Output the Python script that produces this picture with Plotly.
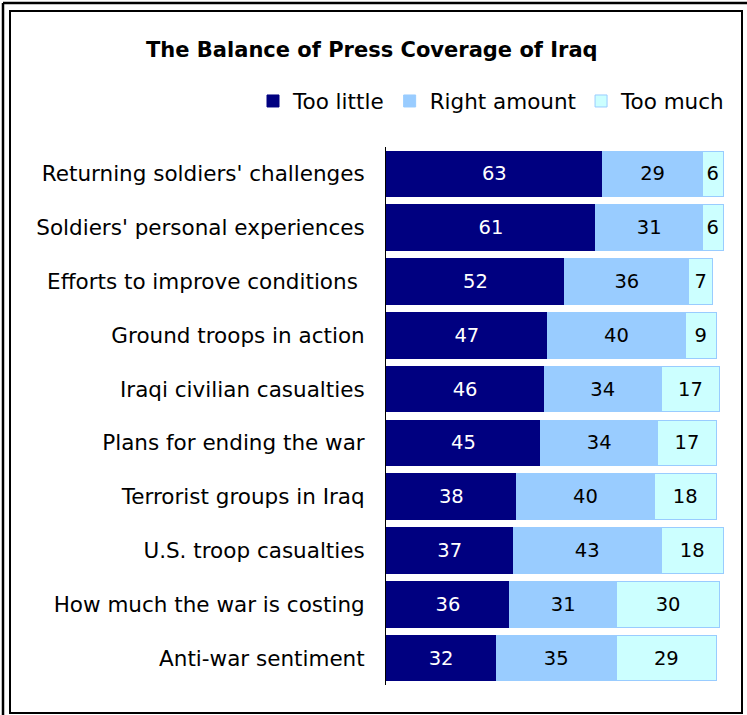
import plotly.graph_objects as go

W, H = 747, 715

categories = [
    "Returning soldiers' challenges",
    "Soldiers' personal experiences",
    "Efforts to improve conditions\u00a0",
    "Ground troops in action",
    "Iraqi civilian casualties",
    "Plans for ending the war",
    "Terrorist groups in Iraq",
    "U.S. troop casualties",
    "How much the war is costing",
    "Anti-war sentiment",
]
too_little = [63, 61, 52, 47, 46, 45, 38, 37, 36, 32]
right_amount = [29, 31, 36, 40, 34, 34, 40, 43, 31, 35]
too_much = [6, 6, 7, 9, 17, 17, 18, 18, 30, 29]

series = [
    ("Too little", too_little, "#000080", "#000080", "white"),
    ("Right amount", right_amount, "#99CCFF", "#99CCFF", "black"),
    ("Too much", too_much, "#CCFFFF", "#99CCFF", "black"),
]

FONT = "DejaVu Sans"

fig = go.Figure()
for name, vals, color, lcolor, tcolor in series:
    fig.add_trace(go.Bar(
        name=name, y=categories, x=vals, orientation="h",
        marker=dict(color=color, line=dict(color=lcolor, width=1)),
        text=[str(v) for v in vals], textposition="inside",
        insidetextanchor="middle", constraintext="none",
        textfont=dict(family=FONT, size=19.5, color=tcolor),
        hoverinfo="skip",
    ))

px_per_unit = 3.44
x0 = 386
plot_right = x0 + 100 * px_per_unit
top, bottom = 147, 685

fig.update_layout(
    width=W, height=H,
    margin=dict(l=0, r=0, t=0, b=0),
    paper_bgcolor="white", plot_bgcolor="white",
    barmode="stack", bargap=0.15,
    font=dict(family=FONT, size=20, color="black"),
    showlegend=True,
    legend=dict(
        orientation="h", x=730 / W, xanchor="right",
        y=1 - 101 / H, yanchor="middle",
        font=dict(family=FONT, size=21.5, color="black"),
        traceorder="normal", itemclick=False, itemdoubleclick=False,
        tracegroupgap=0, bgcolor="rgba(0,0,0,0)",
    ),
    xaxis=dict(
        domain=[x0 / W, plot_right / W], range=[0, 100],
        visible=False, fixedrange=True,
    ),
    yaxis=dict(
        domain=[1 - bottom / H, 1 - top / H],
        autorange="reversed", showline=True, linecolor="black", linewidth=1,
        ticks="", showgrid=False, zeroline=False,
        ticklabelstandoff=16,
        tickfont=dict(family=FONT, size=21.5, color="black"),
        fixedrange=True,
    ),
    annotations=[dict(
        text="<b>The Balance of Press Coverage of Iraq</b>",
        xref="paper", yref="paper", x=372 / W, y=1 - 50 / H,
        xanchor="center", yanchor="middle", showarrow=False,
        font=dict(family=FONT, size=21, color="black"),
    )],
    shapes=[
        dict(type="rect", xref="paper", yref="paper",
             x0=10 / W, x1=742 / W, y0=1 - 713 / H, y1=1 - 11 / H,
             line=dict(color="black", width=2), fillcolor="rgba(0,0,0,0)", layer="below"),
        dict(type="line", xref="paper", yref="paper",
             x0=3 / W, x1=3 / W, y0=0, y1=1 - 3 / H,
             line=dict(color="black", width=2.5)),
        dict(type="line", xref="paper", yref="paper",
             x0=3 / W, x1=1, y0=1 - 3 / H, y1=1 - 3 / H,
             line=dict(color="black", width=2.5)),
    ],
)

fig.write_html(
    "out.html",
    config={"displayModeBar": False},
    post_script="document.body.style.margin='0';document.body.style.padding='0';",
)
